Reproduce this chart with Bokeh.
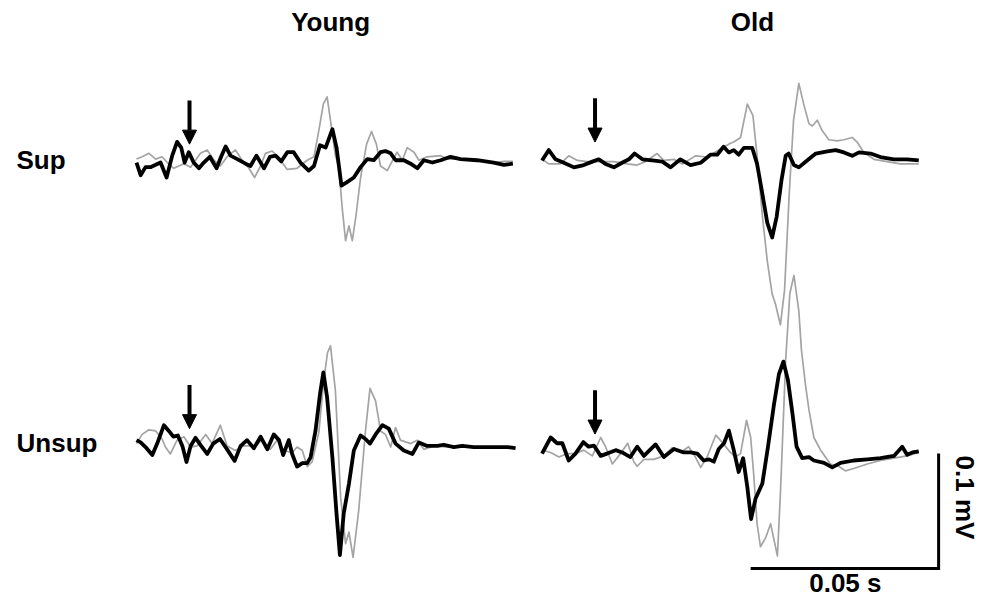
from bokeh.plotting import figure
from bokeh.models import Range1d, Arrow, NormalHead, ColumnDataSource
from bokeh.core.properties import value
from bokeh.embed import file_html
from bokeh.resources import INLINE

# ---- data: time (ms from sweep start) and potential (µV re baseline) ----
young_sup_black_t = [0, 1.1, 2.4, 3.7, 5.1, 6.4, 8.0, 9.5, 10.8, 11.9, 12.8, 13.9, 15.2, 16.6, 17.9, 19.5, 21.3, 22.5, 23.7, 25.0,
                     26.8, 29.0, 30.3, 31.9, 33.9, 35.5, 37.0, 38.5, 40.1, 41.8, 43.6, 45.8, 47.2, 48.8, 50.3, 52.1, 53.2, 54.5, 56.0, 57.8,
                     59.6, 61.4, 63.1, 64.9, 66.2, 67.6, 68.9, 71.1, 72.9, 74.7, 76.4, 78.7, 80.9, 83.5, 86.2, 90.6, 95.0, 97.7, 100.1]
young_sup_black_v = [0, -11, -4, -4, -2, 0, -13, 6, 18, 13, 0, 9, 0, -5, 0, 5, -5, 5, 14, 6,
                     3, -1, -3, 6, -5, 5, 6, 1, 9, 9, 0, -7, -3, 15, 13, 29, 13, -20, -17, -13,
                     -4, 3, 2, 9, 10, 8, 2, 2, -1, -5, 2, 0, 2, 5, 3, 2, 0, -2, -1]
young_sup_gray_t = [0, 1.5, 3.3, 5.1, 6.8, 8.2, 9.9, 12.6, 14.4, 17.0, 18.8, 20.6, 22.3, 24.1, 26.3, 28.1, 29.9, 31.4, 33.0, 34.3,
                    36.1, 38.3, 40.1, 42.7, 45.4, 47.2, 48.5, 49.7, 50.7, 52.1, 52.9, 53.8, 54.7, 55.6, 56.5, 57.4, 58.3, 59.6, 61.2, 62.5,
                    63.8, 64.9, 66.7, 67.8, 69.3, 70.7, 72.0, 73.8, 75.1, 77.3, 80.9, 82.6, 86.2, 90.6, 95.0, 97.7, 100.1]
young_sup_gray_v = [3, 5, 8, 3, 5, 0, -5, -1, -4, 8, 11, 2, -3, 5, 11, 2, -5, -13, -3, 8,
                    10, 2, -6, -5, 2, 5, 28, 51, 57, 25, 6, -4, -39, -68, -55, -68, -48, -13, 16, 27,
                    16, -3, -7, 0, 9, 2, 13, 9, 2, 5, 6, 3, 3, 2, 0, 1, 1]

old_sup_black_t = [0, 1.8, 3.6, 5.8, 8.5, 11.1, 13.4, 15.1, 16.9, 19.1, 21.3, 23.1, 24.6, 26.7, 29.3, 32.0, 34.2, 36.8, 39.5, 42.2,
                   44.8, 46.6, 48.3, 49.7, 51.0, 52.3, 53.7, 55.9, 57.2, 58.6, 59.9, 61.2, 62.4, 63.7, 64.8, 65.6, 67.0, 68.3, 70.5, 72.8,
                   75.9, 78.1, 80.3, 82.5, 84.3, 87.4, 90.0, 93.6, 97.1, 100.2]
old_sup_black_v = [0, 9, 1, -2, -6, -4, -1, 1, -3, -6, -2, 1, 6, 1, 0, -1, -6, 1, -4, -2,
                   5, 5, 12, 7, 9, 5, 11, 11, -3, -29, -54, -67, -49, -17, 4, 6, -4, -6, 0, 6,
                   8, 9, 7, 4, 7, 6, 3, 1, 1, 0]
old_sup_gray_t = [0, 1.8, 4.9, 7.1, 9.4, 12.0, 15.6, 19.1, 22.7, 25.3, 27.5, 30.6, 32.4, 35.1, 37.3, 40.8, 43.9, 47.5, 50.1, 51.0,
                  52.8, 54.6, 56.1, 57.2, 58.6, 59.9, 61.2, 62.1, 63.4, 64.5, 65.8, 66.9, 68.3, 69.6, 71.0, 71.9, 73.2, 74.5, 76.3, 78.5,
                  80.3, 82.5, 83.8, 85.6, 88.3, 91.8, 95.3, 100.2]
old_sup_gray_v = [1, -3, -3, 4, 0, -1, -1, -1, -3, -4, -1, 6, 0, 1, -3, 4, 3, 10, 15, 16,
                  20, 49, 39, 4, -48, -87, -116, -125, -143, -113, -26, 35, 67, 49, 32, 30, 35, 26, 18, 17,
                  18, 20, 16, 7, 1, -1, -3, -3]

young_unsup_black_t = [0, 1.1, 2.4, 4.2, 5.5, 7.3, 8.6, 9.8, 11.0, 12.2, 13.3, 14.4, 15.7, 17.2, 18.8, 20.4, 22.2, 24.1, 26.1, 27.7,
                       29.4, 31.2, 33.0, 34.8, 36.5, 37.9, 39.0, 40.5, 41.4, 42.7, 44.1, 45.4, 46.3, 47.6, 48.8, 49.7, 50.7, 52.1, 53.2, 54.1,
                       55.1, 56.5, 57.8, 59.6, 60.9, 62.1, 63.6, 65.4, 67.1, 68.9, 71.1, 73.4, 75.1, 77.3, 80.0, 81.7, 84.4, 86.6, 89.7, 93.3,
                       96.4, 98.6, 100.8]
young_unsup_black_v = [6, 4, 0, -7, 3, 19, 14, 9, 10, 1, -13, 1, 8, 1, -6, 3, 7, -2, -12, 1,
                       6, -1, 9, -2, 11, 6, -7, 6, -6, -17, -14, -14, -9, 14, 46, 65, 43, -9, -58, -94,
                       -58, -32, -3, 10, 7, 3, 11, 19, 16, 3, -3, -6, 4, 1, 1, 2, 0, 1, 0, 0,
                       0, 0, -1]
young_unsup_gray_t = [0, 1.5, 3.3, 5.1, 6.8, 7.7, 9.0, 10.8, 12.6, 14.4, 16.1, 18.4, 20.1, 22.3, 24.1, 26.3, 28.5, 31.7, 33.4, 35.6,
                      37.4, 39.2, 41.4, 42.7, 44.1, 45.4, 46.7, 48.5, 49.8, 50.8, 51.6, 52.9, 54.3, 55.6, 56.5, 57.6, 59.1, 60.9, 62.1, 63.6,
                      64.9, 66.2, 67.6, 68.9, 70.2, 72.9, 74.7, 76.4, 79.1, 82.6, 86.2, 91.5, 96.8, 100.8]
young_unsup_gray_v = [3, 11, 15, 14, 7, 0, -6, 6, 9, 0, 1, 11, 3, 19, 1, -3, 1, 1, 6, -2,
                      6, -3, -5, 0, -3, -17, -13, 13, 58, 82, 88, 49, -44, -84, -74, -96, -55, 14, 51, 40,
                      14, 11, 0, 17, 6, 3, 6, -2, 1, 0, 0, 0, 0, -1]

old_unsup_black_t = [0, 2.3, 4.0, 5.4, 7.1, 8.9, 11.0, 12.4, 13.8, 15.6, 17.3, 19.6, 21.3, 23.5, 25.3, 27.1, 30.2, 32.4, 35.1, 37.7,
                     39.5, 41.3, 43.0, 44.4, 45.7, 47.0, 48.4, 49.7, 51.0, 52.3, 53.5, 54.6, 55.6, 56.8, 58.6, 60.1, 61.7, 63.0, 64.2, 65.4,
                     66.6, 67.7, 69.2, 71.0, 72.3, 75.0, 77.2, 79.4, 82.9, 86.5, 90.0, 93.6, 95.8, 97.1, 98.5, 100.2]
old_unsup_black_v = [-1, 13, 8, 8, -7, -1, 9, 5, 6, -3, -1, 2, 0, -4, 5, -3, 7, -4, 3, 0,
                     0, -1, -7, -6, -8, 3, 8, 19, 2, -17, -5, -30, -58, -40, -27, 5, 42, 68, 79, 63,
                     34, 5, -5, -4, -7, -9, -13, -9, -7, -6, -5, -3, 5, -2, 0, 1]
old_unsup_gray_t = [0, 2.3, 4.5, 6.7, 8.9, 11.1, 13.4, 15.6, 16.9, 18.7, 20.9, 22.8, 24.4, 25.3, 27.1, 29.7, 32.4, 34.6, 36.8, 39.0,
                    40.8, 42.2, 43.9, 46.2, 47.9, 50.1, 51.4, 52.8, 54.4, 55.5, 56.3, 57.2, 58.1, 59.5, 60.8, 62.6, 63.4, 64.8, 65.9, 67.0,
                    68.3, 69.0, 70.1, 71.0, 72.3, 74.1, 76.7, 78.9, 80.7, 82.9, 86.5, 90.0, 93.6, 97.1, 100.2]
old_unsup_gray_v = [2, 0, -4, -1, -1, 2, -3, 13, 5, -10, -1, 8, -8, -12, -6, -6, -3, 4, 0, 5,
                    -4, -13, -4, 15, 9, 0, -4, -1, 28, 13, -19, -62, -82, -74, -62, -90, -36, 80, 138, 154,
                    123, 89, 58, 37, 13, 2, -10, -12, -16, -14, -10, -7, -5, -3, 0]

columns = ["Young", "Old"]
rows = ["Sup", "Unsup"]
stim_ms = 14.1            # arrow (stimulus) time
scale_t_ms = 50           # 0.05 s
scale_v_uv = 100          # 0.1 mV

traces = {
    ("Young", "Sup"): (young_sup_gray_t, young_sup_gray_v, young_sup_black_t, young_sup_black_v),
    ("Old", "Sup"): (old_sup_gray_t, old_sup_gray_v, old_sup_black_t, old_sup_black_v),
    ("Young", "Unsup"): (young_unsup_gray_t, young_unsup_gray_v, young_unsup_black_t, young_unsup_black_v),
    ("Old", "Unsup"): (old_unsup_gray_t, old_unsup_gray_v, old_unsup_black_t, old_unsup_black_v),
}

# ---- layout (data units: ms horizontally, µV vertically) ----
W, H = 987, 599
PX_PER_MS = 3.76
PX_PER_UV = 1.15
col_x0 = {"Young": 36.17, "Old": 144.02}
row_base = {("Young", "Sup"): -140.9, ("Old", "Sup"): -139.1,
            ("Young", "Unsup"): -388.3, ("Old", "Unsup"): -393.0}

p = figure(width=W, height=H, output_backend="svg", toolbar_location=None,
           x_range=Range1d(0, W / PX_PER_MS), y_range=Range1d(-H / PX_PER_UV, 0),
           x_axis_location=None, y_axis_location=None, min_border=0)
p.grid.visible = False
p.outline_line_color = None
p.background_fill_color = "white"
p.border_fill_color = "white"

for (c, r), (gt, gv, bt, bv) in traces.items():
    x0 = col_x0[c]
    b = row_base[(c, r)]
    p.line([x0 + t for t in gt], [b + v for v in gv], line_color="#a4a4a4", line_width=1.7, line_join="round")
    p.line([x0 + t for t in bt], [b + v for v in bv], line_color="black", line_width=3.8, line_join="round")
    ax = x0 + stim_ms
    p.add_layout(Arrow(end=NormalHead(size=14, fill_color="black", line_color="black", line_width=1),
                       x_start=ax, y_start=b + 54, x_end=ax, y_end=b + 16,
                       line_color="black", line_width=4))

# scale bars
sx0, sy0 = 199.5, -493.9
p.line([sx0, sx0 + scale_t_ms, sx0 + scale_t_ms], [sy0, sy0, sy0 + scale_v_uv],
       line_color="black", line_width=3, line_join="miter")

font = value("Liberation Sans")
title_src = ColumnDataSource(dict(x=[87.8, 200.0], y=[-19.1, -19.1], t=columns))
p.text(x="x", y="y", text="t", source=title_src, text_font=font, text_font_style="bold",
       text_font_size="26px", text_align="center", text_baseline="middle", text_color="black")
row_src = ColumnDataSource(dict(x=[4.26, 4.26], y=[-139.1, -385.2], t=rows))
p.text(x="x", y="y", text="t", source=row_src, text_font=font, text_font_style="bold",
       text_font_size="26px", text_align="left", text_baseline="middle", text_color="black")
p.text(x=[224.7], y=[-506.1], text=["0.05 s"], text_font=font, text_font_style="bold",
       text_font_size="26px", text_align="center", text_baseline="middle", text_color="black")
p.text(x=[256.4], y=[-432.2], text=["0.1 mV"], angle=-1.5708, text_font=font,
       text_font_style="bold", text_font_size="26px", text_align="center", text_baseline="middle",
       text_color="black")

open("out.html", "w").write(file_html(p, INLINE))
